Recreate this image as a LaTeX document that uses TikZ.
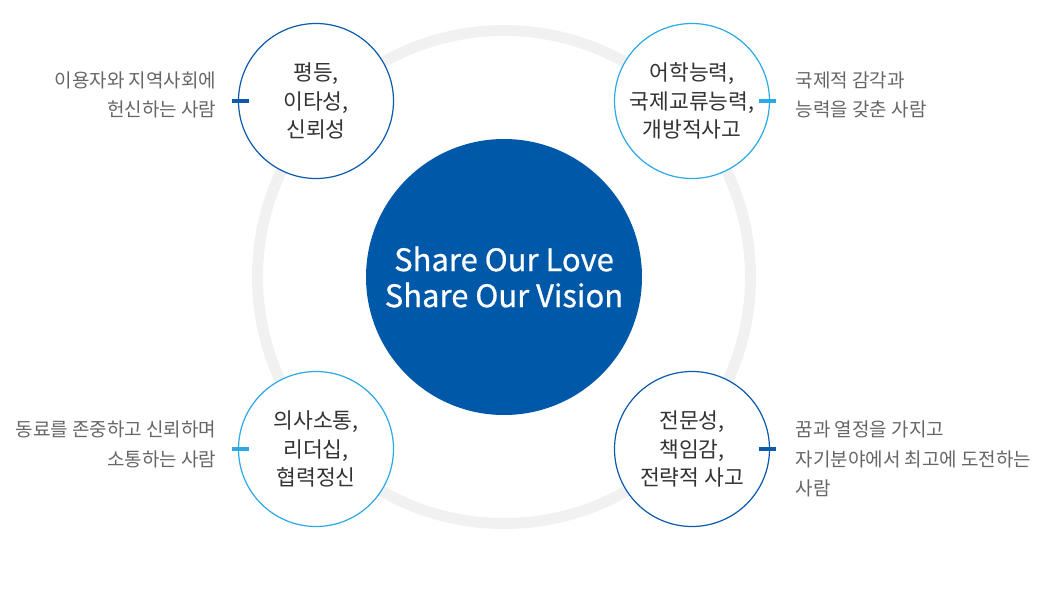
\documentclass[tikz,border=0pt]{standalone}
\usepackage{fontspec}
\setmainfont{Noto Sans CJK KR}
\newfontfamily\visionfont{Noto Sans CJK KR}[FakeBold=0.7]
\usetikzlibrary{positioning}
\definecolor{darkblue}{HTML}{0B5AAB}
\definecolor{lightblue}{HTML}{2BA9E6}
\definecolor{mainblue}{HTML}{0058A9}
\definecolor{ringgray}{HTML}{F1F1F1}
\definecolor{labelgray}{HTML}{333333}
\definecolor{sidegray}{HTML}{666666}
\begin{document}
\begin{tikzpicture}[x=1pt,y=-1pt,
            value/.style={circle,draw,fill=white,line width=1.2pt,minimum size=155pt,inner sep=0pt,
              align=center,text=labelgray,font=\fontsize{21.5}{28.5}\selectfont},
            side/.style={text=sidegray,font=\fontsize{19}{29.5}\selectfont},
            tick/.style={line width=4pt}]
            \useasboundingbox (0,0) rectangle (1047,613);
            % ring behind the circles
            \draw[ringgray,line width=11pt] (504,277) circle (246.5);
            \node[circle,fill=mainblue,minimum size=276pt,inner sep=0pt,align=center,text=white,
              font=\visionfont\fontsize{31}{36}\selectfont] (vision) at (504,277) {Share Our Love\\Share Our Vision};
            % the four values
            \node[value,draw=darkblue] (tl) at (316,101) {평등,\\이타성,\\신뢰성};
            \node[value,draw=lightblue] (tr) at (692,101) {어학능력,\\국제교류능력,\\개방적사고};
            \node[value,draw=lightblue] (bl) at (316,449) {의사소통,\\리더십,\\협력정신};
            \node[value,draw=darkblue] (br) at (692,449) {전문성,\\책임감,\\전략적 사고};
            \node[side,align=right,left=18pt of tl,yshift=6pt] (tltext) {이용자와 지역사회에\\헌신하는 사람};
            \node[side,align=left,right=22pt of tr,yshift=6pt] (trtext) {국제적 감각과\\능력을 갖춘 사람};
            \node[side,align=right,left=18pt of bl,yshift=4.5pt] (bltext) {동료를 존중하고 신뢰하며\\소통하는 사람};
            \node[side,align=left,right=22pt of br,yshift=-10pt] (brtext) {꿈과 열정을 가지고\\자기분야에서 최고에 도전하는\\사람};
            % small marks
            \draw[tick,darkblue] ([xshift=-6pt]tl.west) -- ([xshift=11pt]tl.west);
            \draw[tick,lightblue] ([xshift=6pt]tr.east) -- ([xshift=-11pt]tr.east);
            \draw[tick,lightblue] ([xshift=-6pt]bl.west) -- ([xshift=11pt]bl.west);
            \draw[tick,darkblue] ([xshift=6pt]br.east) -- ([xshift=-11pt]br.east);
        \end{tikzpicture}
\end{document}
